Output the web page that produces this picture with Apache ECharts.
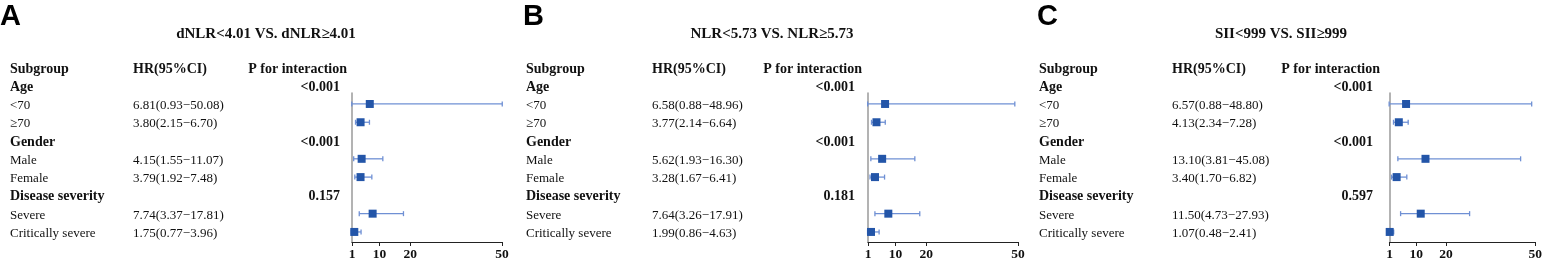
<!DOCTYPE html>
<html><head><meta charset="utf-8">
<script src="https://cdn.jsdelivr.net/npm/echarts@6/dist/echarts.min.js"></script>
<style>html,body{margin:0;padding:0;background:#fff}#c{width:1545px;height:262px}</style>
</head><body><div id="c"></div>
<script>
// ---- data ----
const panelLetters = ['A', 'B', 'C'];
const panelTitles = ['dNLR<4.01 VS. dNLR≥4.01', 'NLR<5.73 VS. NLR≥5.73', 'SII<999 VS. SII≥999'];
const headerLabels = ['Subgroup', 'HR(95%CI)', 'P for interaction'];
const rowLabels = ['Age', '<70', '≥70', 'Gender', 'Male', 'Female', 'Disease severity', 'Severe', 'Critically severe'];
const rowIsGroup = [true, false, false, true, false, false, true, false, false];
const groupRowIndex = [0, 3, 6];
const xTicks = [1, 10, 20, 50];

const hrA = [null, 6.81, 3.80, null, 4.15, 3.79, null, 7.74, 1.75];
const loA = [null, 0.93, 2.15, null, 1.55, 1.92, null, 3.37, 0.77];
const hiA = [null, 50.08, 6.70, null, 11.07, 7.48, null, 17.81, 3.96];
const pA = ['<0.001', '<0.001', '0.157'];

const hrB = [null, 6.58, 3.77, null, 5.62, 3.28, null, 7.64, 1.99];
const loB = [null, 0.88, 2.14, null, 1.93, 1.67, null, 3.26, 0.86];
const hiB = [null, 48.96, 6.64, null, 16.30, 6.41, null, 17.91, 4.63];
const pB = ['<0.001', '<0.001', '0.181'];

const hrC = [null, 6.57, 4.13, null, 13.10, 3.40, null, 11.50, 1.07];
const loC = [null, 0.88, 2.34, null, 3.81, 1.70, null, 4.73, 0.48];
const hiC = [null, 48.80, 7.28, null, 45.08, 6.82, null, 27.93, 2.41];
const pC = ['<0.001', '<0.001', '0.597'];

const panels = [
  {hr: hrA, lo: loA, hi: hiA, p: pA},
  {hr: hrB, lo: loB, hi: hiB, p: pB},
  {hr: hrC, lo: loC, hi: hiC, p: pC}
];

// ---- layout ----
const layout = [
  {gridLeft: 352, gridW: 150, letterX: 0, titleX: 266, colX: [10, 133], pRight: 340},
  {gridLeft: 868, gridW: 150, letterX: 523, titleX: 772, colX: [526, 652], pRight: 855},
  {gridLeft: 1389.5, gridW: 149, letterX: 1037, titleX: 1281, colX: [1039, 1172], pRight: 1373}
];
const SERIF = '"Liberation Serif","Times New Roman",serif';
const markerColor = '#2355a8';
const lineColor = '#6f90d4';
const textShift = 1.5;

const chart = echarts.init(document.getElementById('c'), null, {renderer: 'canvas'});

const grids = [], xAxes = [], yAxes = [], series = [];
layout.forEach((L, k) => {
  grids.push({left: L.gridLeft, width: L.gridW, top: 93, height: 149, containLabel: false});
  xAxes.push({
    type: 'value', gridIndex: k, min: 1, max: 50,
    axisLine: {show: true, lineStyle: {color: '#222', width: 1.2}},
    axisTick: {show: true, customValues: xTicks, length: 4, lineStyle: {color: '#222'}},
    axisLabel: {customValues: xTicks, color: '#111', fontFamily: SERIF, fontWeight: 'bold', fontSize: 13.5, margin: 6},
    splitLine: {show: false}
  });
  yAxes.push({
    type: 'value', gridIndex: k, inverse: true, min: 0.4, max: 8.55,
    axisLine: {show: true, lineStyle: {color: '#9a9a9a', width: 1.5}},
    axisTick: {show: false}, axisLabel: {show: false}, splitLine: {show: false}
  });
  const P = panels[k];
  const ciData = [], hrData = [];
  P.hr.forEach((v, i) => {
    if (v == null) return;
    ciData.push([P.lo[i], P.hi[i], i]);
    hrData.push([v, i]);
  });
  series.push({
    type: 'custom', xAxisIndex: k, yAxisIndex: k, data: ciData, silent: true,
    renderItem: (params, api) => {
      const a = api.coord([api.value(0), api.value(2)]);
      const b = api.coord([api.value(1), api.value(2)]);
      const st = {stroke: lineColor, lineWidth: 1.3};
      return {type: 'group', children: [
        {type: 'line', shape: {x1: a[0], y1: a[1], x2: b[0], y2: b[1]}, style: st},
        {type: 'line', shape: {x1: a[0], y1: a[1] - 2.5, x2: a[0], y2: a[1] + 2.5}, style: st},
        {type: 'line', shape: {x1: b[0], y1: b[1] - 2.5, x2: b[0], y2: b[1] + 2.5}, style: st}
      ]};
    }
  });
  series.push({
    type: 'scatter', xAxisIndex: k, yAxisIndex: k, data: hrData, symbol: 'rect', symbolSize: 8,
    itemStyle: {color: markerColor, opacity: 1}, silent: true
  });
});

chart.setOption({
  animation: false,
  grid: grids, xAxis: xAxes, yAxis: yAxes, series: series
});

// ---- table text placed on the y scale ----
const graphics = [];
const fmt = v => v.toFixed(2);
layout.forEach((L, k) => {
  const P = panels[k];
  const yOf = r => chart.convertToPixel({yAxisIndex: k}, r) + textShift;
  graphics.push({type: 'text', left: L.letterX, top: 2, style: {text: panelLetters[k], font: 'bold 29px "Liberation Sans", Arial, sans-serif', fill: '#000'}});
  graphics.push({type: 'text', x: L.titleX, y: 34, style: {text: panelTitles[k], font: 'bold 15px ' + SERIF, fill: '#111', textAlign: 'center', textVerticalAlign: 'middle'}});
  const hY = yOf(-1);
  graphics.push({type: 'text', x: L.colX[0], y: hY, style: {text: headerLabels[0], font: 'bold 14px ' + SERIF, fill: '#111', textVerticalAlign: 'middle'}});
  graphics.push({type: 'text', x: L.colX[1], y: hY, style: {text: headerLabels[1], font: 'bold 14px ' + SERIF, fill: '#111', textVerticalAlign: 'middle'}});
  graphics.push({type: 'text', x: L.pRight + 7, y: hY, style: {text: headerLabels[2], font: 'bold 14px ' + SERIF, fill: '#111', textVerticalAlign: 'middle', textAlign: 'right'}});
  rowLabels.forEach((lab, i) => {
    const y = yOf(i);
    graphics.push({type: 'text', x: L.colX[0], y: y, style: {text: lab, font: (rowIsGroup[i] ? 'bold 14px ' : '13px ') + SERIF, fill: '#111', textVerticalAlign: 'middle'}});
    if (P.hr[i] != null) {
      graphics.push({type: 'text', x: L.colX[1], y: y, style: {text: fmt(P.hr[i]) + '(' + fmt(P.lo[i]) + '−' + fmt(P.hi[i]) + ')', font: '13px ' + SERIF, fill: '#111', textVerticalAlign: 'middle'}});
    }
  });
  groupRowIndex.forEach((r, g) => {
    graphics.push({type: 'text', x: L.pRight, y: yOf(r), style: {text: P.p[g], font: 'bold 14px ' + SERIF, fill: '#111', textVerticalAlign: 'middle', textAlign: 'right'}});
  });
});
chart.setOption({graphic: graphics});
</script>
</body></html>
